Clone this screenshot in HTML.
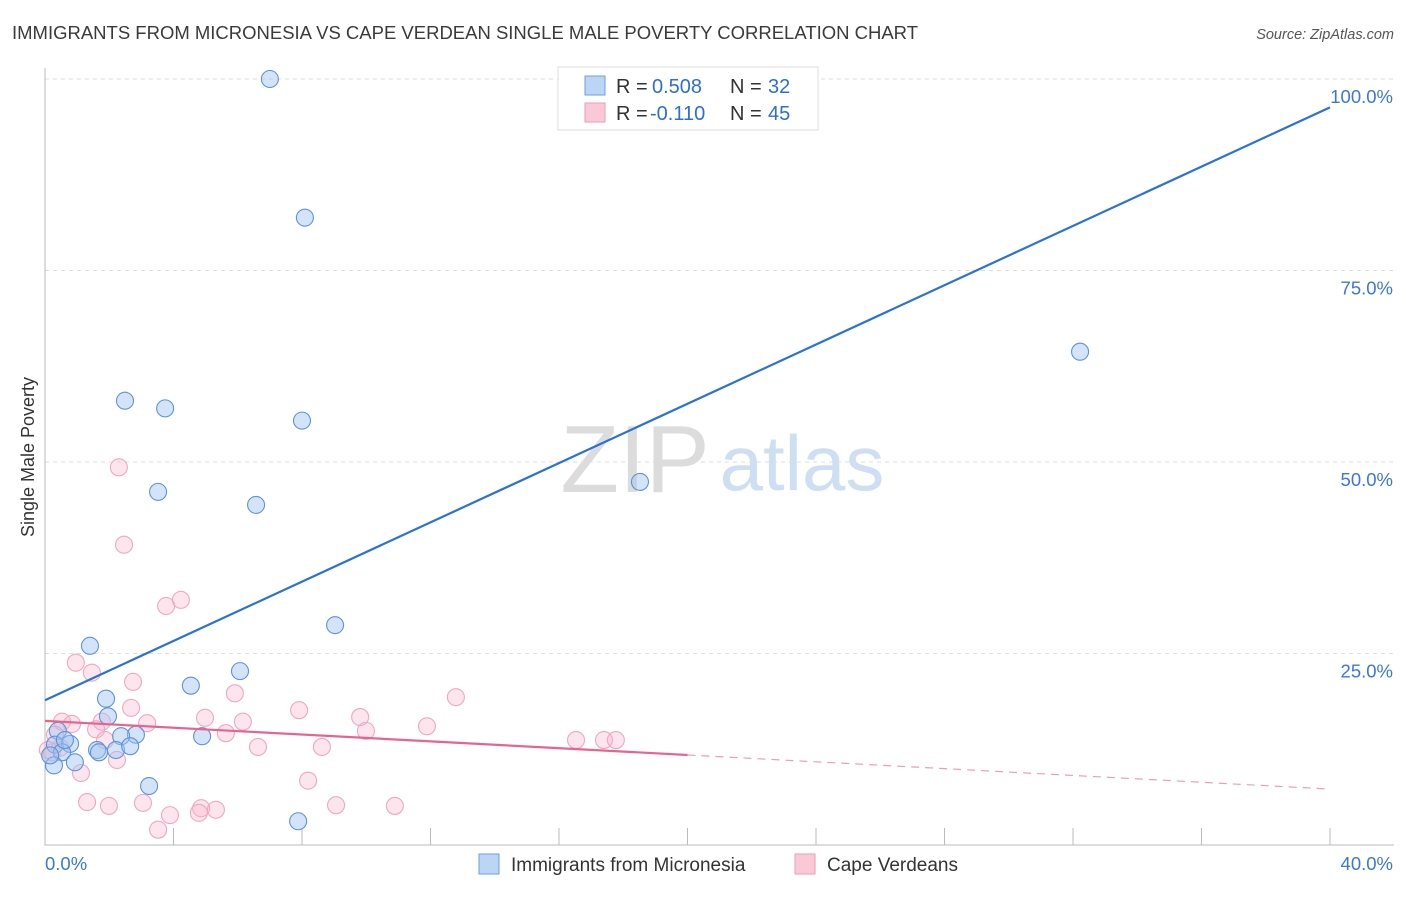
<!DOCTYPE html>
<html><head><meta charset="utf-8"><style>
body{margin:0;background:#fff;font-family:"Liberation Sans",sans-serif;}
svg text{font-family:"Liberation Sans",sans-serif;}
</style></head><body>
<svg id="c" width="1406" height="892">
<text x="12" y="39" font-size="18.5" fill="#3a3a3a" textLength="906">IMMIGRANTS FROM MICRONESIA VS CAPE VERDEAN SINGLE MALE POVERTY CORRELATION CHART</text>
<text x="1394" y="39" font-size="14.5" fill="#555" font-style="italic" text-anchor="end">Source: ZipAtlas.com</text>
<text x="34" y="457" font-size="18" fill="#333" text-anchor="middle" transform="rotate(-90 34 457)">Single Male Poverty</text>
<g><text x="635" y="492" font-size="96" fill="#dcdcdc" font-family="Liberation Serif" text-anchor="middle">ZIP</text><text x="802" y="490" font-size="78" fill="#cfdff3" text-anchor="middle">atlas</text></g>
<g id="grid"></g><g id="marks"></g>
<g>
<rect x="558" y="67" width="260" height="63" fill="#fff" stroke="#ddd"/>
<rect x="585" y="76" width="20" height="19" fill="#bcd5f5" stroke="#6a9fe0"/>
<rect x="585" y="103" width="20" height="19" fill="#f9c9d8" stroke="#ee9ab5"/>
<text x="616" y="93" font-size="20" fill="#333">R =</text><text x="652" y="93" font-size="20" fill="#2d6fd0">0.508</text>
<text x="730" y="93" font-size="20" fill="#333">N =</text><text x="768" y="93" font-size="20" fill="#2d6fd0">32</text>
<text x="616" y="120" font-size="20" fill="#333">R =</text><text x="650" y="120" font-size="20" fill="#2d6fd0">-0.110</text>
<text x="730" y="120" font-size="20" fill="#333">N =</text><text x="768" y="120" font-size="20" fill="#2d6fd0">45</text>
</g>
<g>
<rect x="479" y="854" width="20" height="20" fill="#bcd5f5" stroke="#6a9fe0"/>
<text x="511" y="871" font-size="19" fill="#333">Immigrants from Micronesia</text>
<rect x="795" y="854" width="20" height="20" fill="#f9c9d8" stroke="#ee9ab5"/>
<text x="827" y="871" font-size="19" fill="#333">Cape Verdeans</text>
</g>
</svg>
<script>
const xTicks=[0,40];
const yTicks=[25,50,75,100];
const blueX=[7.0,8.09,2.49,3.74,8.0,3.52,6.57,18.52,32.22,9.03,1.40,6.07,4.54,1.90,1.96,2.83,4.89,2.37,0.40,0.31,0.78,1.62,2.21,2.65,1.68,0.53,0.93,0.28,0.16,3.24,7.88,0.62];
const blueY=[100,81.9,58.0,57.0,55.4,46.1,44.4,47.4,64.4,28.7,26.0,22.7,20.8,19.1,16.8,14.4,14.2,14.2,14.9,13.1,13.2,12.4,12.4,12.9,12.1,12.1,10.8,10.4,11.7,7.7,3.1,13.7];
const pinkX=[2.30,2.46,3.77,4.23,0.96,1.46,2.74,5.91,12.79,2.68,7.91,4.98,9.81,3.18,0.53,0.84,1.77,1.59,11.89,9.99,5.63,6.16,1.87,6.63,8.62,16.53,17.40,17.77,2.24,1.12,8.19,1.31,1.99,3.05,9.06,10.89,4.86,5.32,4.79,3.89,3.52,0.22,0.09,0.47,0.31];
const pinkY=[49.3,39.2,31.2,32.0,23.8,22.5,21.3,19.8,19.3,17.9,17.6,16.6,16.7,15.9,16.1,15.8,16.1,15.1,15.5,14.9,14.6,16.1,13.7,12.8,12.8,13.7,13.7,13.7,11.1,9.4,8.4,5.6,5.1,5.5,5.2,5.1,4.8,4.6,4.2,3.9,2.0,12.1,12.4,12.7,14.4];
const blueTrend=[18.9,96.3];
const pinkTrend=[16.2,7.3];
const pinkSolidEnd=20;
const X=v=>45+v*32.125, Y=v=>845-v*7.66;
const NS='http://www.w3.org/2000/svg';
function mk(p,t,a){const e=document.createElementNS(NS,t);for(const k in a)e.setAttribute(k,a[k]);p.appendChild(e);return e;}
const g=document.getElementById('grid'), m=document.getElementById('marks');
yTicks.forEach(v=>{
 const l=mk(g,'line',{x1:45,x2:1394,y1:Y(v),y2:Y(v),stroke:'#ddd','stroke-dasharray':'4,4'});
 
 
 const t=mk(g,'text',{x:1393,y:Y(v)+24,'font-size':18.5,fill:'#3b78d6','text-anchor':'end'});t.textContent=v.toFixed(1)+'%';
 
 
});
const ax=mk(g,'path',{d:'M45,68V845H1394',stroke:'#bbb',fill:'none'});


for(let i=1;i<=10;i++){const tk=mk(g,'line',{x1:X(i*4),x2:X(i*4),y1:845,y2:828,stroke:'#bbb'});
 
 }
xTicks.forEach((v,i)=>{const t=mk(g,'text',{x:i?1393:45,y:870,'font-size':18.5,fill:'#3b78d6','text-anchor':i?'end':'start'});t.textContent=v.toFixed(1)+'%';
 
 });
pinkX.forEach((v,i)=>{const c=mk(m,'circle',{cx:X(v),cy:Y(pinkY[i]),r:8.5,fill:'rgba(248,180,202,0.35)',stroke:'#f0a8bf','stroke-width':1.1});
 
 });
blueX.forEach((v,i)=>{const c=mk(m,'circle',{cx:X(v),cy:Y(blueY[i]),r:8.5,fill:'rgba(160,196,240,0.45)',stroke:'#5d93dc','stroke-width':1.1});
 
 });
const bl=mk(m,'line',{x1:X(0),y1:Y(blueTrend[0]),x2:X(40),y2:Y(blueTrend[1]),stroke:'#2a72d6','stroke-width':2.2});


const pm=pinkTrend[0]+(pinkTrend[1]-pinkTrend[0])*pinkSolidEnd/40;
const pl=mk(m,'line',{x1:X(0),y1:Y(pinkTrend[0]),x2:X(pinkSolidEnd),y2:Y(pm),stroke:'#e8648f','stroke-width':2.2});


const pd=mk(m,'line',{x1:X(pinkSolidEnd),y1:Y(pm),x2:X(40),y2:Y(pinkTrend[1]),stroke:'#e8a0b6','stroke-width':1.2,'stroke-dasharray':'8,6'});


</script>
</body></html>
